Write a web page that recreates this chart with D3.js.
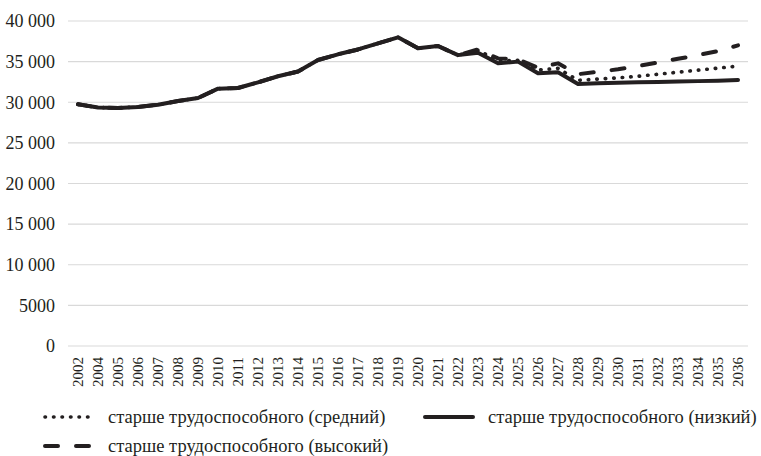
<!DOCTYPE html>
<html>
<head>
<meta charset="utf-8">
<script src="https://cdn.jsdelivr.net/npm/d3@7"></script>
<style>
  body { margin: 0; background: #fff; }
  svg text { font-family: "Liberation Serif", "Times New Roman", Times, serif !important; }
</style>
</head>
<body>
<svg id="chart"></svg>
<script>
const width = 761;
const height = 456;
const ink = "#231f20";

// years on the x axis (2003 is missing in the source)
const years = ["2002", "2004", "2005", "2006", "2007", "2008", "2009", "2010", "2011", "2012",
  "2013", "2014", "2015", "2016", "2017", "2018", "2019", "2020", "2021", "2022", "2023",
  "2024", "2025", "2026", "2027", "2028", "2029", "2030", "2031", "2032", "2033", "2034",
  "2035", "2036"];

// common history 2002-2022
const history = [29750, 29350, 29300, 29420, 29700, 30150, 30520, 31670, 31750, 32450,
  33200, 33780, 35200, 35900, 36500, 37250, 37990, 36640, 36920, 35800];

// forecast 2023-2036
const medium = [36400, 35100, 35150, 33970, 34170, 32700, 32850, 33000, 33200, 33450, 33700, 33950, 34200, 34450];
const low = [36100, 34800, 35000, 33560, 33700, 32250, 32350, 32400, 32450, 32500, 32550, 32600, 32650, 32750];
const high = [36500, 35400, 35300, 34250, 34790, 33450, 33750, 34050, 34450, 34900, 35350, 35800, 36300, 37000];

const yTicks = [0, 5000, 10000, 15000, 20000, 25000, 30000, 35000, 40000];
const yTickLabels = ["0", "5000", "10 000", "15 000", "20 000", "25 000", "30 000", "35 000", "40 000"];

const seriesNames = ["старше трудоспособного (средний)", "старше трудоспособного (низкий)", "старше трудоспособного (высокий)"];

const series = [
  { name: seriesNames[0], values: history.concat(medium), dash: "0.5 8", width: 3.6 },
  { name: seriesNames[1], values: history.concat(low), dash: null, width: 4 },
  { name: seriesNames[2], values: history.concat(high), dash: "13 18", width: 4 }
];

const svg = d3.select("#chart")
  .attr("width", width)
  .attr("height", height)
  .attr("viewBox", [0, 0, width, height]);

// scales
const x = d3.scalePoint()
  .domain(years)
  .range([68, 748])
  .padding(0.5);

const y = d3.scaleLinear()
  .domain([0, 40000])
  .range([346, 21]);

// gridlines
svg.append("g")
  .selectAll("line")
  .data(yTicks)
  .join("line")
  .attr("x1", 68)
  .attr("x2", 748)
  .attr("y1", d => y(d))
  .attr("y2", d => y(d))
  .attr("stroke", "#d9d9d9")
  .attr("stroke-width", 1.2);

// y labels
svg.append("g")
  .selectAll("text")
  .data(yTicks)
  .join("text")
  .attr("x", 55)
  .attr("y", d => y(d))
  .attr("dy", "0.35em")
  .attr("text-anchor", "end")
  .attr("font-size", "18px")
  .attr("fill", ink)
  .text((d, i) => yTickLabels[i]);

// x labels, rotated
svg.append("g")
  .selectAll("text")
  .data(years)
  .join("text")
  .attr("transform", d => `translate(${x(d)},357) rotate(-90)`)
  .attr("dy", "0.35em")
  .attr("text-anchor", "end")
  .attr("font-size", "15px")
  .attr("fill", ink)
  .text(d => d);

// lines
const line = d3.line()
  .x((d, i) => x(years[i]))
  .y(d => y(d));

svg.append("g")
  .selectAll("path")
  .data(series)
  .join("path")
  .attr("d", d => line(d.values))
  .attr("fill", "none")
  .attr("stroke", ink)
  .attr("stroke-width", d => d.width)
  .attr("stroke-linecap", "round")
  .attr("stroke-linejoin", "round")
  .attr("stroke-dasharray", d => d.dash);

// legend
const legendPos = [
  { x: 43, y: 417 },
  { x: 423, y: 417 },
  { x: 43, y: 446 }
];

const legend = svg.append("g")
  .selectAll("g")
  .data(series)
  .join("g")
  .attr("transform", (d, i) => `translate(${legendPos[i].x},${legendPos[i].y})`);

legend.append("line")
  .attr("x1", 2)
  .attr("x2", (d, i) => i === 1 ? 50 : 47)
  .attr("stroke", ink)
  .attr("stroke-width", d => d.width)
  .attr("stroke-linecap", "round")
  .attr("stroke-dasharray", d => d.dash);

legend.append("text")
  .attr("x", 65)
  .attr("dy", "0.35em")
  .attr("font-size", "18.5px")
  .attr("fill", ink)
  .text(d => d.name);
</script>
</body>
</html>
